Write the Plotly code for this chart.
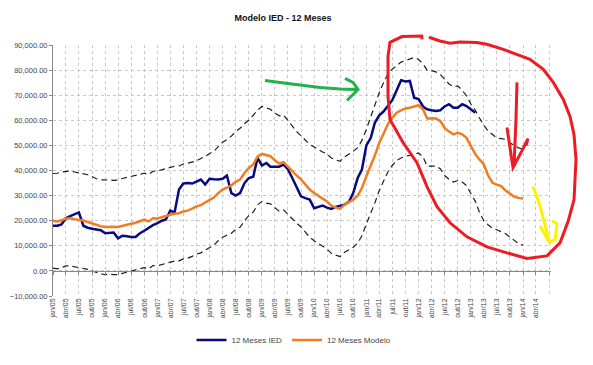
import plotly.graph_objects as go
import pandas as pd

# ---------------- data ----------------
ied_12m = [18000, 18000, 18500, 21000, 21800, 22500, 23300, 18000, 17200, 16800,
           16500, 16200, 15000, 15200, 15300, 13000, 14000, 13800, 13500, 13500,
           15000, 16000, 17300, 18200, 19000, 20000, 20500, 24000, 23300, 32400,
           34800, 35000, 34800, 35500, 36400, 34400, 36700, 36500, 36400, 36700,
           38000, 31000, 30000, 31000, 35000, 37000, 37500, 45000, 42000, 43000,
           41500, 41500, 41500, 42300, 40500, 37000, 33000, 29700, 29000, 28400,
           25000, 25500, 26000, 25200, 24700, 25500, 26000, 26400, 27500, 31000,
           37000, 40400, 50000, 53000, 59000, 62000, 63500, 66000, 68000, 72000,
           76000, 75500, 75700, 69000, 68500, 65500, 64400, 64000, 63700, 64000,
           65500, 66400, 65000, 65000, 66400, 65700, 64500, 63000]

modelo_12m = [20000, 19700, 20200, 20800, 21000, 20500, 20300, 20100, 19500, 19000,
              18400, 17800, 17500, 17700, 17600, 17500, 18000, 18400, 18800, 19200,
              19700, 20400, 19700, 21000, 20900, 21500, 22000, 22400, 22800, 23000,
              23700, 24000, 24800, 25700, 26200, 27300, 28400, 29300, 31000, 32400,
              33200, 34000, 35500, 36400, 39000, 41000, 42400, 45500, 46600, 46000,
              45700, 44100, 42800, 43300, 41500, 39500, 38000, 36500, 34500, 32400,
              31000, 30000, 28800, 27700, 26000, 25300, 24700, 26400, 27400, 28400,
              30000, 33000, 37700, 42000, 46000, 51000, 55000, 58500, 61000, 63000,
              64000, 64700, 65000, 65500, 66000, 64400, 60700, 60800, 60700, 59700,
              57000, 55500, 54400, 55000, 54400, 53000, 49500, 46500, 44400, 42500,
              38000, 35100, 34400, 33800, 32000, 30800, 29500, 29100, 28800]

banda_sup = [38800, 38900, 39400, 39700, 39800, 39400, 39100, 38700, 38300, 37600,
             36700, 36300, 36100, 36200, 36100, 36200, 36800, 37200, 37700, 38100,
             38500, 38900, 38400, 39700, 39800, 40300, 41000, 41400, 41700, 41800,
             42600, 42900, 43300, 43800, 44800, 45600, 46800, 47700, 49500, 51300,
             52300, 53700, 55500, 56800, 58600, 60000, 62000, 64000, 65500, 65000,
             64400, 62900, 61800, 62100, 60000, 57500, 55500, 53800, 52000, 50400,
             49400, 48200, 47400, 46600, 45000, 44200, 43700, 45400, 46400, 47600,
             49100, 52000, 56400, 61500, 66000, 71000, 75000, 78500, 80400, 82000,
             83200, 83800, 84400, 85000, 84200, 82500, 80000, 79800, 79300, 78200,
             76400, 74500, 73400, 73700, 72000, 69700, 66500, 64000, 61000, 58000,
             55800, 54200, 53000, 52700, 52400, 51000, 50000, 49000, 48400]

banda_inf = [1100, 800, 1300, 2000, 2000, 1600, 1400, 1100, 600, 0,
             -700, -1200, -1500, -1300, -1500, -1500, -1000, -500, -100, 300,
             800, 1300, 800, 2100, 2000, 2600, 3100, 3500, 3900, 4000,
             4800, 5100, 5800, 6700, 7200, 8300, 9400, 10300, 12000, 13400,
             14200, 15000, 16500, 17400, 20000, 22000, 23400, 26300, 27700, 27000,
             26700, 25100, 23800, 24300, 22500, 20500, 19000, 17500, 15500, 13400,
             12000, 11000, 9800, 8700, 7000, 6300, 5700, 7400, 8400, 9400,
             11000, 14000, 18700, 23000, 27000, 32000, 36000, 39500, 42000, 44000,
             45000, 45700, 46000, 46500, 47000, 45400, 41700, 41800, 41700, 40700,
             38000, 36500, 35400, 36000, 35400, 34000, 31000, 27700, 23500, 20000,
             18400, 17000, 16400, 15500, 14800, 13500, 12000, 10800, 10200]

tick_labels = ["jan/05", "abr/05", "jul/05", "out/05", "jan/06", "abr/06", "jul/06", "out/06",
               "jan/07", "abr/07", "jul/07", "out/07", "jan/08", "abr/08", "jul/08", "out/08",
               "jan/09", "abr/09", "jul/09", "out/09", "jan/10", "abr/10", "jul/10", "out/10",
               "jan/11", "abr/11", "jul/11", "out/11", "jan/12", "abr/12", "jul/12", "out/12",
               "jan/13", "abr/13", "jul/13", "out/13", "jan/14", "abr/14", ""]

# ---------------- x positions ----------------
start = "2005-01-01"
x_ied = pd.date_range(start, periods=len(ied_12m), freq="MS")
x_mod = pd.date_range(start, periods=len(modelo_12m), freq="MS")
x_sup = pd.date_range(start, periods=len(banda_sup), freq="MS")
x_inf = pd.date_range(start, periods=len(banda_inf), freq="MS")
tick_vals = pd.date_range(start, periods=len(tick_labels), freq="3MS")

FONT = "Liberation Sans, Arial, sans-serif"
DASH_COLOR = "#1e1e1e"

fig = go.Figure()
fig.add_trace(go.Scatter(x=x_sup, y=banda_sup, mode="lines", showlegend=False, hoverinfo="skip",
                         line=dict(color=DASH_COLOR, width=1.2, dash="6px,4px")))
fig.add_trace(go.Scatter(x=x_inf, y=banda_inf, mode="lines", showlegend=False, hoverinfo="skip",
                         line=dict(color=DASH_COLOR, width=1.2, dash="6px,4px")))
fig.add_trace(go.Scatter(x=x_ied, y=ied_12m, mode="lines", name="12 Meses IED",
                         line=dict(color="#0a0a80", width=2.5)))
fig.add_trace(go.Scatter(x=x_mod, y=modelo_12m, mode="lines", name="12 Meses Modelo",
                         line=dict(color="#F07D22", width=2.5)))
# helper trace so the axis line at y = 0 (with its tick marks) is drawn
fig.add_trace(go.Scatter(x=[x_ied[0]], y=[0], xaxis="x2", mode="markers", showlegend=False,
                         hoverinfo="skip", marker=dict(opacity=0)))

# ---------------- hand drawn marks (paper coordinates) ----------------
L, R, T, B = 53.0, 551.0, 45.7, 296.0


def path(points):
    parts = []
    for i, (px, py) in enumerate(points):
        xp = (px - L) / (R - L)
        yp = (B - py) / (B - T)
        parts.append(("M" if i == 0 else "L") + f"{xp:.4f},{yp:.4f}")
    return " ".join(parts)


red_loop = [(429, 38), (440, 41.7), (450, 44), (460, 42.7), (476.7, 43.3), (486.7, 45), (503.3, 50),
            (516.7, 55), (530, 60), (543.3, 70), (553.3, 83), (563.3, 100), (570, 117), (574, 135),
            (576, 160), (574, 200), (568, 222), (560, 243), (547, 256), (527, 258.5), (507, 253),
            (487, 247), (467, 237), (450, 223), (437, 207), (427, 187), (417, 163), (403, 143),
            (390, 120), (388, 97), (388, 57), (390, 43), (402, 37.3), (421.7, 36.7), (422, 40)]
red_arrow = [(517, 83), (516, 120), (514, 167)]
red_head = [(507, 128), (513, 168), (522, 151), (528, 139), (526, 146)]
yellow_arrow = [(533, 187), (537, 197), (541, 210), (545, 225), (549, 241)]
yellow_head = [(540, 226), (549, 242), (555, 240), (557, 224), (552, 221)]
green_arrow = [(265, 81), (280, 83), (300, 85.5), (320, 88), (340, 89.5), (357, 90)]
green_head = [(345, 79), (353, 83), (358, 90), (353, 95), (347, 101)]

marks = [(red_loop, "#ED1C24"), (red_arrow, "#ED1C24"), (red_head, "#ED1C24"),
         (yellow_arrow, "#FFF200"), (yellow_head, "#FFF200"),
         (green_arrow, "#22B14C"), (green_head, "#22B14C")]
shapes = [dict(type="path", xref="paper", yref="paper", path=path(p), layer="above",
               line=dict(color=c, width=3)) for p, c in marks]

grid = dict(showgrid=True, gridcolor="#c8c8c8", griddash="dot", gridwidth=1)

fig.update_layout(
    width=593, height=365,
    margin=dict(l=53, r=42, t=45, b=69, autoexpand=False),
    paper_bgcolor="white", plot_bgcolor="white",
    font=dict(family=FONT, color="#333333"),
    title=dict(text="<b>Modelo IED - 12 Meses</b>", x=283 / 593, xanchor="center",
               y=1 - 17.5 / 365, yanchor="middle", font=dict(size=9, color="#111111", family=FONT)),
    xaxis=dict(type="date", range=["2005-01-01", "2014-07-15"], tickmode="array",
               tickvals=tick_vals, ticktext=tick_labels, tickangle=-90,
               tickfont=dict(size=7, color="#444444"), ticks="", showline=False,
               zeroline=False, automargin=False, **grid),
    xaxis2=dict(type="date", overlaying="x", matches="x", anchor="free", position=0.1,
                tickmode="array", tickvals=tick_vals, showticklabels=False, ticks="outside",
                ticklen=3, tickcolor="#888888", showline=True, linecolor="#888888",
                linewidth=1, showgrid=False, zeroline=False),
    yaxis=dict(range=[-10000, 90000], tick0=0, dtick=10000, tickformat=",.2f",
               tickfont=dict(size=7.5, color="#444444"), ticks="outside", ticklen=3,
               tickcolor="#888888", showline=True, linecolor="#888888", linewidth=1,
               zeroline=False, automargin=False, **grid),
    legend=dict(orientation="h", x=(294 - L) / (R - L), xanchor="center",
                y=(B - 340) / (B - T), yanchor="middle", font=dict(size=8, color="#444444"),
                itemwidth=30, bgcolor="rgba(0,0,0,0)"),
    shapes=shapes,
    showlegend=True,
)

fig.write_html("out.html", config={"displayModeBar": False},
               post_script="document.body.style.margin='0';document.body.style.padding='0';")
